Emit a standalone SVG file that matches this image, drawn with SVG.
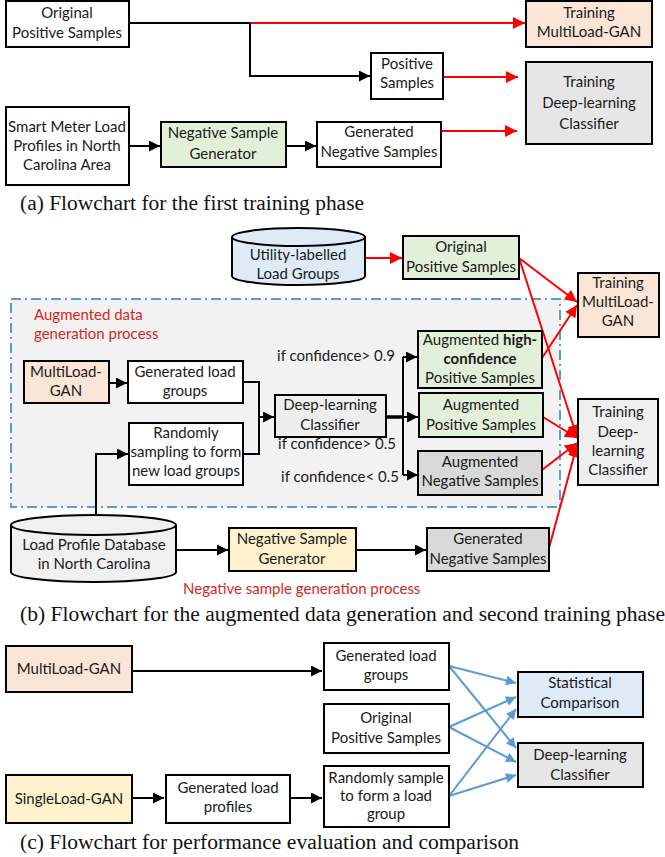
<svg xmlns="http://www.w3.org/2000/svg" width="665" height="857" viewBox="0 0 665 857">
<defs>
<style>
text{font-family:Lato,"Liberation Sans",sans-serif;font-size:15px;fill:#1a1a1a;text-anchor:middle}
.cap{font-family:"Liberation Serif","Times New Roman",serif;font-size:20px;text-anchor:start;fill:#111}
.red{fill:#d9261c;text-anchor:start}
.b{stroke:#000;stroke-width:2}
.w{fill:#fff}.pe{fill:#fbe5d6}.gr{fill:#e2f0d9}.bl{fill:#deebf7}.ye{fill:#fff2cc}.g1{fill:#d9d9d9}.g2{fill:#e7e6e6}.g3{fill:#efefef}
.lk{stroke:#000;stroke-width:2;fill:none}
.lr{stroke:#ff0000;stroke-width:2;fill:none}
.lb{stroke:#5b9bd5;stroke-width:2;fill:none}
</style>
<marker id="ak" viewBox="0 0 10 10" refX="10" refY="5" markerWidth="5.5" markerHeight="5.5" markerUnits="strokeWidth" orient="auto"><path d="M0,0L10,5L0,10z" fill="#000"/></marker>
<marker id="ar" viewBox="0 0 10 10" refX="10" refY="5" markerWidth="6.5" markerHeight="6" markerUnits="strokeWidth" orient="auto"><path d="M0,0L10,5L0,10z" fill="#ff0000"/></marker>
<marker id="ab" viewBox="0 0 10 10" refX="10" refY="5" markerWidth="6.5" markerHeight="5" markerUnits="strokeWidth" orient="auto"><path d="M0,0L10,5L0,10z" fill="#5b9bd5"/></marker>
</defs>
<rect width="665" height="857" fill="#fff"/>

<!-- region (b) -->
<rect id="aug-region" x="11" y="299" width="549" height="208" fill="#f2f2f2" stroke="#5b9bd5" stroke-width="2" stroke-dasharray="10 4 2 4"/>

<g id="connectors">
 <!-- (a) -->
 <path class="lk" d="M129,23H252"/>
 <path class="lr" d="M250,23H525" marker-end="url(#ar)"/>
 <path class="lk" d="M250,23V76H370" marker-end="url(#ak)"/>
 <path class="lr" d="M443,77H518" marker-end="url(#ar)"/>
 <path class="lk" d="M129,146H160" marker-end="url(#ak)"/>
 <path class="lk" d="M286,146H316" marker-end="url(#ak)"/>
 <path class="lr" d="M441,131H517" marker-end="url(#ar)"/>
 <!-- (b) -->
 <path class="lr" d="M365,258H402" marker-end="url(#ar)"/>
 <path class="lr" d="M519,258L577,302" marker-end="url(#ar)"/>
 <path class="lr" d="M519,258L577,437" marker-end="url(#ar)"/>
 <path class="lr" d="M542,358L577,305" marker-end="url(#ar)"/>
 <path class="lr" d="M543,417L577,438" marker-end="url(#ar)"/>
 <path class="lr" d="M542,470L577,443" marker-end="url(#ar)"/>
 <path class="lr" d="M549,548L577,445" marker-end="url(#ar)"/>
 <path class="lk" d="M109,383H127" marker-end="url(#ak)"/>
 <path class="lk" d="M243,382H259V454H243"/>
 <path class="lk" d="M259,417H274" marker-end="url(#ak)"/>
 <path class="lk" d="M96,515V454H128" marker-end="url(#ak)"/>
 <path stroke="#000" stroke-width="3.5" fill="none" d="M386,417H404"/>
 <path class="lk" d="M403,357V475"/>
 <path class="lk" d="M403,357H417" marker-end="url(#ak)"/>
 <path class="lk" d="M403,417H418" marker-end="url(#ak)"/>
 <path class="lk" d="M403,475H418" marker-end="url(#ak)"/>
 <path class="lk" d="M176,550H228" marker-end="url(#ak)"/>
 <path class="lk" d="M356,550H426" marker-end="url(#ak)"/>
 <!-- (c) -->
 <path class="lk" d="M132,671H322" marker-end="url(#ak)"/>
 <path class="lk" d="M132,798H164" marker-end="url(#ak)"/>
 <path class="lk" d="M290,798H322" marker-end="url(#ak)"/>
 <path class="lb" d="M449,666L516,683" marker-end="url(#ab)"/>
 <path class="lb" d="M449,666L516,748" marker-end="url(#ab)"/>
 <path class="lb" d="M449,727L516,697" marker-end="url(#ab)"/>
 <path class="lb" d="M449,727L516,762" marker-end="url(#ab)"/>
 <path class="lb" d="M449,796L516,709" marker-end="url(#ab)"/>
 <path class="lb" d="M449,796L516,775" marker-end="url(#ab)"/>
</g>

<!-- ===== (a) ===== -->
<g id="a-orig"><rect class="b w" x="6" y="1" width="123" height="46"/><text x="67" y="18">Original</text><text x="67" y="38">Positive Samples</text></g>
<g id="a-train-gan"><rect class="b pe" x="526" y="1" width="126" height="46"/><text x="589" y="18">Training</text><text x="589" y="37">MultiLoad-GAN</text></g>
<g id="a-pos"><rect class="b w" x="371" y="53" width="72" height="46"/><text x="407" y="69">Positive</text><text x="407" y="88">Samples</text></g>
<g id="a-train-dl"><rect class="b g2" x="526" y="62" width="126" height="82"/><text x="589" y="87">Training</text><text x="589" y="108">Deep-learning</text><text x="589" y="129">Classifier</text></g>
<g id="a-smart"><rect class="b w" x="6" y="107" width="123" height="78"/><text x="67" y="132">Smart Meter Load</text><text x="67" y="151">Profiles in North</text><text x="67" y="170">Carolina Area</text></g>
<g id="a-nsg"><rect class="b gr" x="161" y="122" width="125" height="45"/><text x="223" y="138">Negative Sample</text><text x="223" y="159">Generator</text></g>
<g id="a-gns"><rect class="b w" x="317" y="122" width="124" height="45"/><text x="379" y="137">Generated</text><text x="379" y="157">Negative Samples</text></g>
<text class="cap" x="20" y="210" textLength="344" lengthAdjust="spacingAndGlyphs">(a) Flowchart for the first training phase</text>

<!-- ===== (b) ===== -->
<g id="b-utility"><path class="b bl" d="M232,237V276A66.5,9 0 0 0 365,276V237A66.5,9 0 0 0 232,237Z"/><path class="b" fill="none" d="M232,237A66.5,9 0 0 0 365,237"/><text x="298" y="260">Utility-labelled</text><text x="298" y="279">Load Groups</text></g>
<g id="b-orig"><rect class="b gr" x="403" y="236" width="116" height="43"/><text x="461" y="252">Original</text><text x="461" y="272">Positive Samples</text></g>
<g id="b-train-gan"><rect class="b pe" x="578" y="273" width="81" height="64"/><text x="618" y="288">Training</text><text x="618" y="307">MultiLoad-</text><text x="618" y="326">GAN</text></g>
<text class="red" x="34" y="320">Augmented data</text>
<text class="red" x="34" y="339">generation process</text>
<g id="b-mlgan"><rect class="b pe" x="24" y="361" width="85" height="42"/><text x="66" y="377">MultiLoad-</text><text x="66" y="396">GAN</text></g>
<g id="b-glg"><rect class="b w" x="128" y="361" width="115" height="42"/><text x="185" y="377">Generated load</text><text x="185" y="396">groups</text></g>
<g id="b-rand"><rect class="b w" x="129" y="423" width="114" height="62"/><text x="186" y="438">Randomly</text><text x="186" y="457">sampling to form</text><text x="186" y="476">new load groups</text></g>
<g id="b-dlc"><rect class="b" fill="#eeeeee" x="275" y="395" width="111" height="42"/><text x="330" y="410">Deep-learning</text><text x="330" y="430">Classifier</text></g>
<text x="336" y="361">if confidence&gt; 0.9</text>
<text x="337" y="449">if confidence&gt; 0.5</text>
<text x="340" y="482">if confidence&lt; 0.5</text>
<g id="b-hc"><rect class="b gr" x="418" y="331" width="124" height="57"/><text x="480" y="345">Augmented <tspan font-weight="bold">high-</tspan></text><text x="480" y="364" font-weight="bold">confidence</text><text x="480" y="383">Positive Samples</text></g>
<g id="b-ap"><rect class="b gr" x="419" y="393" width="124" height="44"/><text x="481" y="410">Augmented</text><text x="481" y="430">Positive Samples</text></g>
<g id="b-an"><rect class="b g1" x="418" y="451" width="124" height="44"/><text x="480" y="467">Augmented</text><text x="480" y="486">Negative Samples</text></g>
<g id="b-train-dl"><rect class="b g3" x="578" y="399" width="80" height="86"/><text x="618" y="417">Training</text><text x="618" y="437">Deep-</text><text x="618" y="456">learning</text><text x="618" y="475">Classifier</text></g>
<g id="b-db"><path class="b" fill="#f0f0f0" d="M11,525V572A82.5,10 0 0 0 176,572V525A82.5,10 0 0 0 11,525Z"/><path class="b" fill="none" d="M11,525A82.5,10 0 0 0 176,525"/><text x="94" y="550">Load Profile Database</text><text x="94" y="569">in North Carolina</text></g>
<g id="b-nsg"><rect class="b ye" x="229" y="528" width="127" height="43"/><text x="292" y="544">Negative Sample</text><text x="292" y="564">Generator</text></g>
<g id="b-gns"><rect class="b g1" x="427" y="528" width="122" height="43"/><text x="488" y="544">Generated</text><text x="488" y="564">Negative Samples</text></g>
<text class="red" x="183" y="594">Negative sample generation process</text>
<text class="cap" x="20" y="621" textLength="645" lengthAdjust="spacingAndGlyphs">(b) Flowchart for the augmented data generation and second training phase</text>

<!-- ===== (c) ===== -->
<g id="c-mlgan"><rect class="b pe" x="6" y="646" width="126" height="46"/><text x="69" y="674">MultiLoad-GAN</text></g>
<g id="c-glg"><rect class="b w" x="324" y="643" width="125" height="47"/><text x="386" y="661">Generated load</text><text x="386" y="680">groups</text></g>
<g id="c-orig"><rect class="b w" x="324" y="704" width="125" height="49"/><text x="386" y="723">Original</text><text x="386" y="743">Positive Samples</text></g>
<g id="c-rand"><rect class="b w" x="324" y="766" width="125" height="61"/><text x="386" y="783">Randomly sample</text><text x="386" y="801">to form a load</text><text x="386" y="819">group</text></g>
<g id="c-stat"><rect class="b bl" x="518" y="672" width="125" height="45"/><text x="580" y="688">Statistical</text><text x="580" y="708">Comparison</text></g>
<g id="c-dlc"><rect class="b g2" x="518" y="743" width="125" height="44"/><text x="580" y="760">Deep-learning</text><text x="580" y="780">Classifier</text></g>
<g id="c-slgan"><rect class="b ye" x="6" y="775" width="126" height="48"/><text x="69" y="804">SingleLoad-GAN</text></g>
<g id="c-glp"><rect class="b w" x="166" y="775" width="124" height="48"/><text x="228" y="793">Generated load</text><text x="228" y="812">profiles</text></g>
<text class="cap" x="20" y="849" textLength="499" lengthAdjust="spacingAndGlyphs">(c) Flowchart for performance evaluation and comparison</text>
</svg>
